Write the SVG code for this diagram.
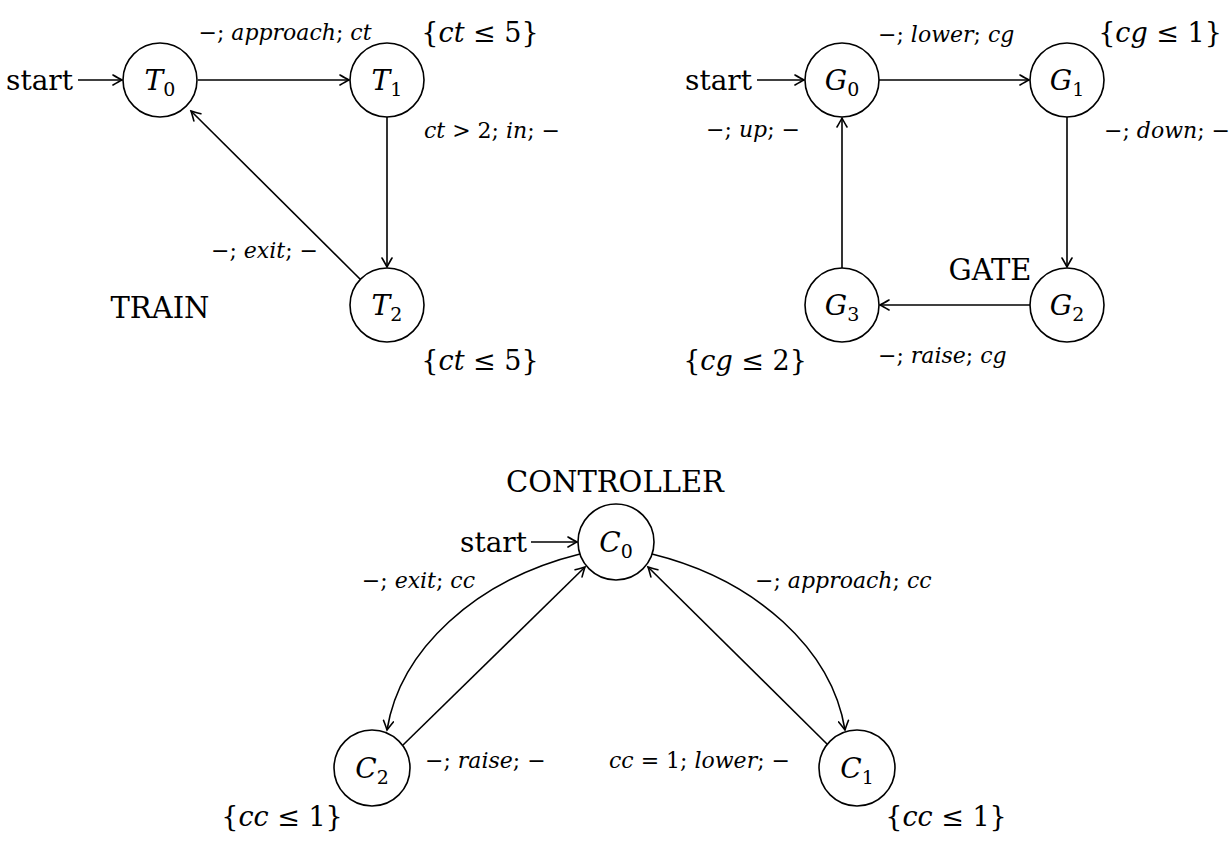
<svg xmlns="http://www.w3.org/2000/svg" width="1229" height="841" viewBox="0 0 1229 841">
<defs>
<marker id="arr" viewBox="-11 -6 13 12" refX="0" refY="0" markerWidth="13" markerHeight="12" markerUnits="userSpaceOnUse" orient="auto">
<path d="M -9 -5 Q -3 -1.5 0 0 Q -3 1.5 -9 5" fill="none" stroke="#000" stroke-width="1.6" stroke-linecap="round"/>
</marker>
</defs>
<style>
text{font-family:"DejaVu Serif","Liberation Serif",serif;fill:#000}
.st{fill:#fff;stroke:#000;stroke-width:1.6}
.e{fill:none;stroke:#000;stroke-width:1.6;marker-end:url(#arr)}
.nm{font-size:28px;font-style:italic}
.sub{font-size:19px;font-style:normal}
.lb{font-size:22px}
.inv{font-size:27px}
.ttl{font-size:28px}
.big{font-size:29px}
.i{font-style:italic}
</style>
<rect width="1229" height="841" fill="#fff"/>
<g id="connectors">
<line class="e" x1="78" y1="80" x2="122" y2="80"/>
<line class="e" x1="198" y1="80" x2="349" y2="80"/>
<line class="e" x1="387" y1="117" x2="387" y2="267"/>
<line class="e" x1="362" y1="281" x2="191" y2="111"/>
<line class="e" x1="757" y1="80" x2="804" y2="80"/>
<line class="e" x1="879" y1="80" x2="1029" y2="80"/>
<line class="e" x1="1067" y1="117" x2="1067" y2="267"/>
<line class="e" x1="1030" y1="305" x2="880" y2="305"/>
<line class="e" x1="842" y1="268" x2="842" y2="118"/>
<line class="e" x1="531" y1="542" x2="577" y2="542"/>
<path class="e" d="M 580 554 C 475 580, 400 650, 387 730"/>
<path class="e" d="M 652 554 C 757 580, 832 650, 845 730"/>
<line class="e" x1="403" y1="745" x2="585" y2="567"/>
<line class="e" x1="828" y1="745" x2="648" y2="567"/>
</g>
<g id="labels">
<text class="ttl" x="73" y="90" text-anchor="end">start</text>
<text class="lb" x="285" y="40" text-anchor="middle">−; <tspan class="i">approach</tspan>; <tspan class="i">ct</tspan></text>
<text class="inv" x="480" y="42" text-anchor="middle">{<tspan class="i">ct</tspan> ≤ 5}</text>
<text class="lb" x="424" y="138"><tspan class="i">ct</tspan> &gt; 2; <tspan class="i">in</tspan>; −</text>
<text class="lb" x="318" y="258" text-anchor="end">−; <tspan class="i">exit</tspan>; −</text>
<text class="ttl big" x="160" y="318" text-anchor="middle">TRAIN</text>
<text class="inv" x="480" y="370" text-anchor="middle">{<tspan class="i">ct</tspan> ≤ 5}</text>

<text class="ttl" x="752" y="90" text-anchor="end">start</text>
<text class="lb" x="878" y="42">−; <tspan class="i">lower</tspan>; <tspan class="i">cg</tspan></text>
<text class="inv" x="1160" y="42" text-anchor="middle">{<tspan class="i">cg</tspan> ≤ 1}</text>
<text class="lb" x="1104" y="138">−; <tspan class="i">down</tspan>; −</text>
<text class="lb" x="800" y="137" text-anchor="end">−; <tspan class="i">up</tspan>; −</text>
<text class="ttl big" x="990" y="280" text-anchor="middle">GATE</text>
<text class="lb" x="878" y="363">−; <tspan class="i">raise</tspan>; <tspan class="i">cg</tspan></text>
<text class="inv" x="745" y="370" text-anchor="middle">{<tspan class="i">cg</tspan> ≤ 2}</text>

<text class="ttl big" x="615" y="492" text-anchor="middle">CONTROLLER</text>
<text class="ttl" x="527" y="552" text-anchor="end">start</text>
<text class="lb" x="475" y="588" text-anchor="end">−; <tspan class="i">exit</tspan>; <tspan class="i">cc</tspan></text>
<text class="lb" x="755" y="588">−; <tspan class="i">approach</tspan>; <tspan class="i">cc</tspan></text>
<text class="lb" x="425" y="768">−; <tspan class="i">raise</tspan>; −</text>
<text class="lb" x="790" y="768" text-anchor="end"><tspan class="i">cc</tspan> = 1; <tspan class="i">lower</tspan>; −</text>
<text class="inv" x="282" y="826" text-anchor="middle">{<tspan class="i">cc</tspan> ≤ 1}</text>
<text class="inv" x="946" y="826" text-anchor="middle">{<tspan class="i">cc</tspan> ≤ 1}</text>
</g>
<g id="T0"><circle class="st" cx="160" cy="80" r="37"/><text class="nm" x="160" y="90" text-anchor="middle">T<tspan class="sub" dy="6">0</tspan></text></g>
<g id="T1"><circle class="st" cx="387" cy="80" r="37"/><text class="nm" x="387" y="90" text-anchor="middle">T<tspan class="sub" dy="6">1</tspan></text></g>
<g id="T2"><circle class="st" cx="387" cy="305" r="37"/><text class="nm" x="387" y="315" text-anchor="middle">T<tspan class="sub" dy="6">2</tspan></text></g>
<g id="G0"><circle class="st" cx="842" cy="80" r="37"/><text class="nm" x="842" y="90" text-anchor="middle">G<tspan class="sub" dy="6">0</tspan></text></g>
<g id="G1"><circle class="st" cx="1067" cy="80" r="37"/><text class="nm" x="1067" y="90" text-anchor="middle">G<tspan class="sub" dy="6">1</tspan></text></g>
<g id="G2"><circle class="st" cx="1067" cy="305" r="37"/><text class="nm" x="1067" y="315" text-anchor="middle">G<tspan class="sub" dy="6">2</tspan></text></g>
<g id="G3"><circle class="st" cx="842" cy="305" r="37"/><text class="nm" x="842" y="315" text-anchor="middle">G<tspan class="sub" dy="6">3</tspan></text></g>
<g id="C0"><circle class="st" cx="616" cy="542" r="38"/><text class="nm" x="616" y="552" text-anchor="middle">C<tspan class="sub" dy="6">0</tspan></text></g>
<g id="C2"><circle class="st" cx="372" cy="768" r="38"/><text class="nm" x="372" y="778" text-anchor="middle">C<tspan class="sub" dy="6">2</tspan></text></g>
<g id="C1"><circle class="st" cx="857" cy="768" r="38"/><text class="nm" x="857" y="778" text-anchor="middle">C<tspan class="sub" dy="6">1</tspan></text></g>
</svg>
